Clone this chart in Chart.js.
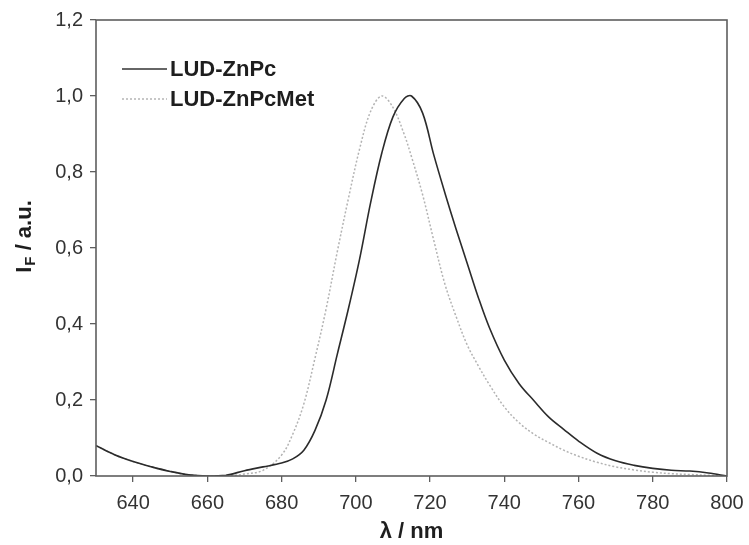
<!DOCTYPE html>
<html>
<head>
<meta charset="utf-8">
<script src="https://cdn.jsdelivr.net/npm/chart.js@4"></script>
<style>
  html, body { margin: 0; padding: 0; background: #fff; }
  #wrap { width: 749px; height: 545px; }
</style>
</head>
<body>
<div id="wrap"><canvas id="spectra" width="749" height="545"></canvas></div>
<script>
'use strict';

// wavelengths (nm) and fluorescence intensity
const wavelengths = [630, 635, 640, 645, 650, 655, 660, 665, 670, 675, 680, 683, 686, 689, 692, 695, 698, 701, 704, 707,
  710, 713, 715, 718, 721, 724, 727, 730, 733, 736, 740, 744, 748, 752, 756, 760, 765, 770, 775, 780, 785, 790, 795, 800];

const znPc = [0.080, 0.056, 0.038, 0.024, 0.012, 0.003, 0.000, 0.002, 0.014, 0.024, 0.034, 0.045, 0.068, 0.120, 0.200, 0.320, 0.440, 0.570, 0.720, 0.850,
  0.945, 0.993, 1.000, 0.955, 0.845, 0.745, 0.650, 0.560, 0.470, 0.390, 0.305, 0.243, 0.198, 0.155, 0.123, 0.092, 0.060, 0.040, 0.028, 0.020, 0.015, 0.013, 0.008, 0.000];

const znPcMet = [0.080, 0.056, 0.038, 0.024, 0.012, 0.003, 0.000, 0.000, 0.005, 0.015, 0.055, 0.110, 0.190, 0.310, 0.440, 0.590, 0.730, 0.860, 0.960, 1.000,
  0.970, 0.900, 0.840, 0.740, 0.620, 0.505, 0.420, 0.345, 0.290, 0.240, 0.182, 0.140, 0.110, 0.088, 0.068, 0.052, 0.036, 0.024, 0.016, 0.010, 0.006, 0.004, 0.002, 0.000];

const seriesNames = ['LUD-ZnPc', 'LUD-ZnPcMet'];

const toPoints = function(ys) {
  return wavelengths.map((x, i) => ({ x: x, y: ys[i] }));
};

const comma = v => v.toFixed(1).replace('.', ',');
const FONT = '"Liberation Sans", Arial, sans-serif';

// frame, legend and the y title with subscript
const decor = {
  id: 'decor',
  afterDraw(chart) {
    const { ctx, chartArea: a } = chart;
    ctx.save();
    ctx.strokeStyle = '#5e5e5e';
    ctx.lineWidth = 1.6;
    ctx.strokeRect(a.left, a.top, a.right - a.left, a.bottom - a.top);

    // legend
    ctx.font = 'bold 22px ' + FONT;
    ctx.textBaseline = 'middle';
    ctx.fillStyle = '#1e1e1e';
    const rows = [{ y: 69, dash: [], color: '#333', w: 1.5 }, { y: 99, dash: [2, 2], color: '#b5b5b5', w: 1.5 }];
    rows.forEach((r, i) => {
      ctx.beginPath();
      ctx.setLineDash(r.dash);
      ctx.strokeStyle = r.color;
      ctx.lineWidth = r.w;
      ctx.moveTo(122, r.y);
      ctx.lineTo(167, r.y);
      ctx.stroke();
      ctx.fillText(seriesNames[i], 170, r.y + 1);
    });
    ctx.setLineDash([]);

    // y title: I_F / a.u.
    ctx.translate(31, 237);
    ctx.rotate(-Math.PI / 2);
    ctx.textBaseline = 'alphabetic';
    ctx.fillStyle = '#1e1e1e';
    const big = 'bold 22px ' + FONT;
    const small = 'bold 15px ' + FONT;
    ctx.font = big;
    const wI = ctx.measureText('I').width;
    const wRest = ctx.measureText(' / a.u.').width;
    ctx.font = small;
    const wF = ctx.measureText('F').width;
    let x = -(wI + wF + wRest) / 2;
    ctx.font = big;
    ctx.fillText('I', x, 0);
    x += wI + 1;
    ctx.font = small;
    ctx.fillText('F', x, 4);
    x += wF;
    ctx.font = big;
    ctx.fillText(' / a.u.', x, 0);
    ctx.restore();
  }
};

const ctx = document.getElementById('spectra');

new Chart(ctx, {
  type: 'line',
  data: {
    datasets: [{
      label: seriesNames[0],
      data: toPoints(znPc),
      borderColor: '#2b2b2b',
      borderWidth: 1.6,
      pointRadius: 0,
      tension: 0.35,
      fill: false
    }, {
      label: seriesNames[1],
      data: toPoints(znPcMet),
      borderColor: '#b3b3b3',
      borderWidth: 1.5,
      borderDash: [2, 2],
      pointRadius: 0,
      tension: 0.35,
      fill: false
    }]
  },
  options: {
    responsive: false,
    animation: false,
    layout: { padding: { top: 20, right: 22, left: 0, bottom: 0 } },
    plugins: { legend: { display: false }, tooltip: { enabled: false } },
    scales: {
      x: {
        type: 'linear',
        min: 630,
        max: 800,
        afterFit: s => { s.height = 69; s.paddingLeft = 0; s.paddingRight = 0; },
        ticks: {
          stepSize: 20,
          includeBounds: false,
          padding: 9,
          color: '#333',
          font: { family: FONT, size: 20 }
        },
        grid: { drawOnChartArea: false, drawTicks: true, tickLength: 6, color: '#5e5e5e', lineWidth: 1.3 },
        border: { display: false },
        title: {
          display: true,
          text: 'λ / nm',
          color: '#1e1e1e',
          font: { family: FONT, size: 22, weight: 'bold' },
          padding: { top: 0, bottom: 0 }
        }
      },
      y: {
        min: 0,
        max: 1.2,
        afterFit: s => { s.width = 96; s.paddingTop = 0; s.paddingBottom = 0; },
        ticks: {
          stepSize: 0.2,
          padding: 7,
          color: '#333',
          font: { family: FONT, size: 20 },
          callback: v => comma(v)
        },
        grid: { drawOnChartArea: false, drawTicks: true, tickLength: 6, color: '#5e5e5e', lineWidth: 1.3 },
        border: { display: false }
      }
    }
  },
  plugins: [decor]
});
</script>
</body>
</html>
